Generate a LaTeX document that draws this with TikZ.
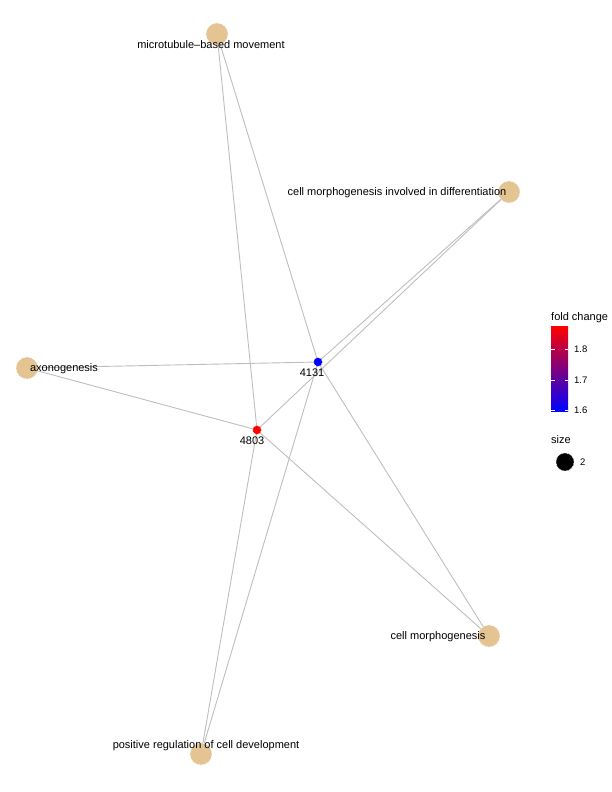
\documentclass[tikz,border=0pt]{standalone}
\usepackage{fontspec}
\setmainfont{Liberation Sans}
\usetikzlibrary{backgrounds}

\definecolor{termtan}{HTML}{E5C494}
\definecolor{edgegray}{HTML}{BEBEBE}

\tikzset{
  term/.style={circle, fill=termtan, draw=white, densely dotted, line width=0.6pt,
    minimum size=22pt, inner sep=0pt},
  gene/.style={circle, draw=white, densely dotted, line width=0.6pt,
    minimum size=9pt, inner sep=0pt},
  lbl/.style={inner sep=0pt, font=\fontsize{11}{13}\selectfont},
  tick/.style={inner sep=0pt, anchor=west, font=\fontsize{9.5}{11}\selectfont},
  edge/.style={draw=edgegray, line width=0.9pt}
}

\begin{document}
\begin{tikzpicture}[x=1pt, y=-1pt]

  \useasboundingbox (0,0) rectangle (612,792); %% page

  %% terms
  \node[term] (micro)  at (217, 34) {};
  \node[term] (cmdiff) at (509,192) {};
  \node[term] (axon)   at ( 27,368) {};
  \node[term] (cmorph) at (489,636) {};
  \node[term] (posreg) at (201,754) {};

  %% genes
  \node[gene, fill=blue] (g4131) at (318,362) {};
  \node[gene, fill=red]  (g4803) at (257,430) {};

  %% edges
  \begin{scope}[on background layer]
    \foreach \t in {micro, cmdiff, axon, cmorph, posreg}{
      \draw[edge] (\t.center) -- (g4131.center);
      \draw[edge] (\t.center) -- (g4803.center);
    }
  \end{scope}

  %% labels
  \node[lbl] (lmicro)  at (211, 45) {microtubule–based movement};
  \node[lbl] (lcmdiff) at (397,193) {cell morphogenesis involved in differentiation};
  \node[lbl] (laxon)   at ( 64,369) {axonogenesis};
  \node[lbl] (lcmorph) at (438,637) {cell morphogenesis};
  \node[lbl] (lposreg) at (206,746) {positive regulation of cell development};
  \node[lbl] (l4131)   at (312,373) {4131};
  \node[lbl] (l4803)   at (252,441) {4803};

  %% legend: fold change
  \node[lbl, anchor=west] (fctitle) at (551,318) {fold change};
  \shade[bottom color=blue, top color=red] (551,326) rectangle (568,411);
  \foreach \v/\y in {1.8/349, 1.7/380, 1.6/410}{
    \draw[white, line width=0.5pt] (551,\y) -- (554.5,\y);
    \draw[white, line width=0.5pt] (564.5,\y) -- (568,\y);
    \node[tick] at (574,\y) {\v};
  }

  %% legend: size
  \node[lbl, anchor=west] (sztitle) at (551,440) {size};
  \node[gene, fill=black, minimum size=18pt] (szdot) at (565,462) {};
  \node[tick] (szlbl) at (580,462) {2};

\end{tikzpicture}
\end{document}
